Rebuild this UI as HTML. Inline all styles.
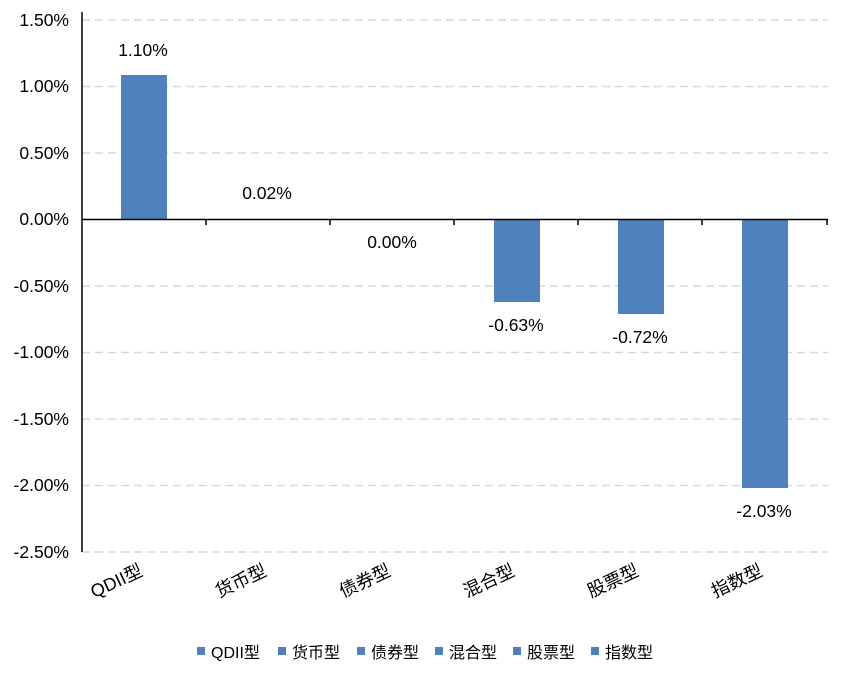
<!DOCTYPE html>
<html><head><meta charset="utf-8"><style>body{margin:0;background:#fff}svg{display:block}</style></head><body>
<svg width="850" height="682" xmlns="http://www.w3.org/2000/svg" font-family="Liberation Sans, Noto Sans CJK SC, sans-serif" font-size="17.5" fill="#000">
<g stroke="#d9d9d9" stroke-width="1.5" stroke-dasharray="8,5">
<line x1="82" y1="20" x2="828" y2="20"/><line x1="82" y1="86.5" x2="828" y2="86.5"/><line x1="82" y1="153" x2="828" y2="153"/>
<line x1="82" y1="286" x2="828" y2="286"/><line x1="82" y1="352.5" x2="828" y2="352.5"/><line x1="82" y1="419" x2="828" y2="419"/><line x1="82" y1="485.5" x2="828" y2="485.5"/><line x1="82" y1="552" x2="828" y2="552"/>
</g>
<g fill="#4f81bd">
<rect x="121" y="75" width="46" height="144"/>
<rect x="494" y="220" width="46" height="82"/>
<rect x="618" y="220" width="46" height="94"/>
<rect x="742" y="220" width="46" height="268"/>
</g>
<g stroke="#000" stroke-width="1.5">
<line x1="82" y1="12" x2="82" y2="552"/>
<line x1="82" y1="219.5" x2="828" y2="219.5"/>
<line x1="206" y1="219.5" x2="206" y2="225"/><line x1="330" y1="219.5" x2="330" y2="225"/><line x1="454" y1="219.5" x2="454" y2="225"/><line x1="578" y1="219.5" x2="578" y2="225"/><line x1="702" y1="219.5" x2="702" y2="225"/><line x1="827" y1="219.5" x2="827" y2="225"/>
</g>
<g text-anchor="end">
<text x="69" y="26">1.50%</text><text x="69" y="92">1.00%</text><text x="69" y="159">0.50%</text><text x="69" y="225">0.00%</text>
<text x="69" y="292">-0.50%</text><text x="69" y="358">-1.00%</text><text x="69" y="425">-1.50%</text><text x="69" y="491">-2.00%</text><text x="69" y="558">-2.50%</text>
</g>
<g text-anchor="middle">
<text x="143" y="56">1.10%</text><text x="267" y="199">0.02%</text><text x="392" y="248">0.00%</text>
<text x="516" y="331">-0.63%</text><text x="640" y="343">-0.72%</text><text x="764" y="517">-2.03%</text>
</g>
<g text-anchor="end" font-size="18">
<text transform="translate(144,575) rotate(-25)">QDII型</text>
<text transform="translate(268,575) rotate(-25)">货币型</text>
<text transform="translate(392,575) rotate(-25)">债券型</text>
<text transform="translate(516,575) rotate(-25)">混合型</text>
<text transform="translate(640,575) rotate(-25)">股票型</text>
<text transform="translate(764,575) rotate(-25)">指数型</text>
</g>
<g font-size="16">
<rect x="197" y="647" width="8" height="8" fill="#4f81bd"/><text x="211" y="658">QDII型</text>
<rect x="278" y="647" width="8" height="8" fill="#4f81bd"/><text x="292" y="658">货币型</text>
<rect x="357" y="647" width="8" height="8" fill="#4f81bd"/><text x="371" y="658">债券型</text>
<rect x="435" y="647" width="8" height="8" fill="#4f81bd"/><text x="449" y="658">混合型</text>
<rect x="513" y="647" width="8" height="8" fill="#4f81bd"/><text x="527" y="658">股票型</text>
<rect x="591" y="647" width="8" height="8" fill="#4f81bd"/><text x="605" y="658">指数型</text>
</g>
</svg>
</body></html>
